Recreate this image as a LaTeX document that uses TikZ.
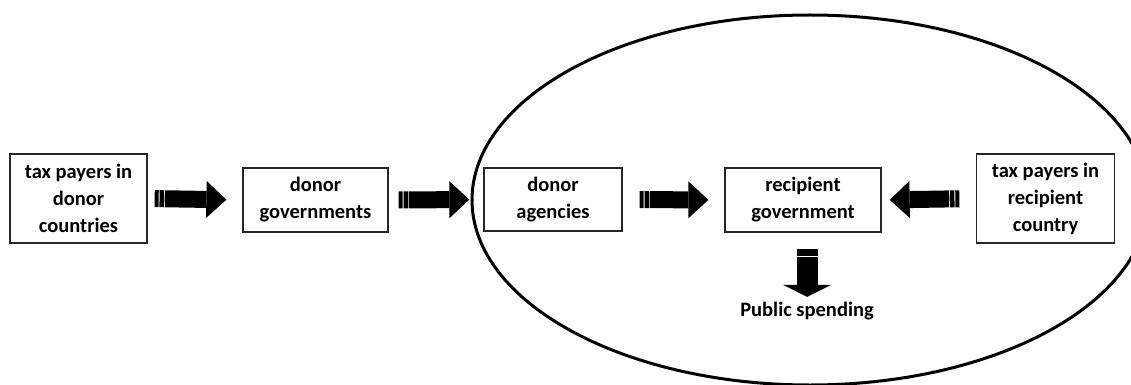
\documentclass[tikz,border=0pt]{standalone}
\usepackage{fontspec}
\setmainfont{Carlito}
\usetikzlibrary{arrows.meta}
\tikzset{
	box/.style={draw=black!85, line width=1.3pt, inner sep=0pt, align=center,
		font=\fontsize{20.5}{27}\selectfont\bfseries},
	blockright/.style={line width=17pt, dash pattern=on 4pt off 0.9pt on 4.5pt off 0.9pt on 400pt,
		-{Triangle[width=37pt, length=20pt, line width=0pt]}},
	blockdown/.style={line width=21pt, dash pattern=on 7pt off 0.9pt on 400pt,
		-{Triangle[width=48pt, length=12pt, line width=0pt]}}
}

\begin{document}
\begin{tikzpicture}[x=1pt, y=-1pt]
		%%%%% START %%%%%
		\clip (0, 0) rectangle (1131, 385);
		
		\draw[line width=3pt] (810, 200) ellipse [x radius=338, y radius=185];
		
		\node[box, minimum width=137, minimum height=89] (tpdonor) at (78.5, 198.5) {tax payers in\\donor\\countries};
		\node[box, minimum width=145, minimum height=64] (donorgov) at (315.5, 200) {donor\\governments};
		\node[box, minimum width=138, minimum height=63] (donorag) at (553, 199.5) {donor\\agencies};
		\node[box, minimum width=156, minimum height=64] (recgov) at (803, 200) {recipient\\government};
		\node[box, minimum width=138, minimum height=89] (tprec) at (1045.5, 198.5) {tax payers in\\recipient\\country};
		
		\node[font=\fontsize{20.5}{27}\selectfont\bfseries, inner sep=0pt] (spend) at (807, 311) {Public spending};
		
		\draw[blockright, shorten <=7pt, shorten >=16pt] (tpdonor.east) -- (donorgov.west);
		\draw[blockright, shorten <=10pt, shorten >=14pt] (donorgov.east) -- (donorag.west);
		\draw[blockright, shorten <=17pt, shorten >=16pt] (donorag.east) -- (recgov.west);
		\draw[blockright, shorten <=16.5pt, shorten >=8pt] (tprec.west) -- (recgov.east);
		
		\draw[blockdown, shorten <=16pt, shorten >=5pt] (recgov.south -| spend.north) -- (spend.north);
		%%%%% END %%%%%
\end{tikzpicture}
\end{document}
